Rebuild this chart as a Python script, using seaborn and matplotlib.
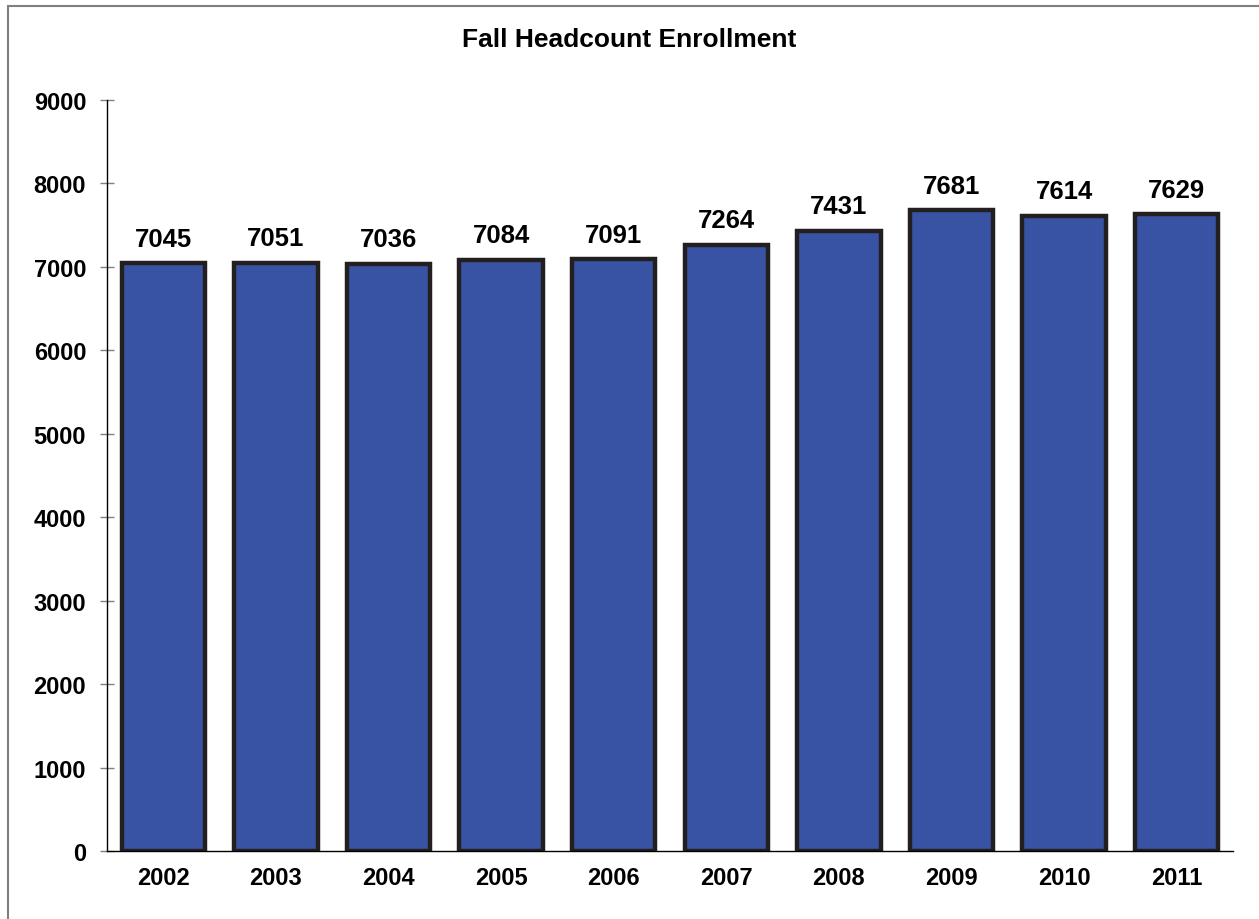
import numpy as np
import pandas as pd
import matplotlib.pyplot as plt
import seaborn as sns
from matplotlib.patches import Rectangle

# data
years = ['2002', '2003', '2004', '2005', '2006', '2007', '2008', '2009', '2010', '2011']
enrollment = [7045, 7051, 7036, 7084, 7091, 7264, 7431, 7681, 7614, 7629]

df = pd.DataFrame({'year': years, 'headcount': enrollment})

sns.set_style('white')
plt.rcParams['font.family'] = ['Liberation Sans', 'DejaVu Sans']
plt.rcParams['font.weight'] = 'bold'
plt.rcParams['text.color'] = 'black'
plt.rcParams['xtick.color'] = 'black'
plt.rcParams['ytick.color'] = 'black'

fig = plt.figure(figsize=(12.59, 9.2), dpi=100)
ax = fig.add_axes([107 / 1259, 68 / 920, (1233 - 107) / 1259, (852 - 101) / 920])

sns.barplot(data=df, x='year', y='headcount', color='#3953A4', width=0.74,
            edgecolor='#231F20', linewidth=3.2, saturation=1, ax=ax)

for c in ax.containers:
    ax.bar_label(c, padding=9, fontsize=18.5, fontweight='bold', color='black')

ax.set_xlim(-0.5, 9.5)
ax.set_ylim(0, 9000)
ax.set_yticks(range(0, 9001, 1000))
ax.set_xlabel('')
ax.set_ylabel('')
# title is centred on the whole chart, not on the plot area
ax.set_title('Fall Headcount Enrollment', fontsize=19, fontweight='bold', pad=39,
             color='black', x=(629.5 - 107) / (1233 - 107))

for s in ['top', 'right']:
    ax.spines[s].set_visible(False)
for s in ['left', 'bottom']:
    ax.spines[s].set_color('black')
    ax.spines[s].set_linewidth(1)

ax.tick_params(axis='y', direction='inout', length=10, width=1, color='#808080',
               labelcolor='black', labelsize=17, pad=10, left=True)
ax.tick_params(axis='x', length=0, labelsize=17, labelcolor='black', pad=11)
for lbl in ax.get_xticklabels() + ax.get_yticklabels():
    lbl.set_fontweight('bold')

# outer frame of the chart area
fig.patches.append(Rectangle((8 / 1259, -0.1), 1.2, (913 / 920) + 0.1,
                             transform=fig.transFigure, fill=False,
                             edgecolor='#7F7F7F', linewidth=1.5))

fig.savefig('out.png', dpi=100)
